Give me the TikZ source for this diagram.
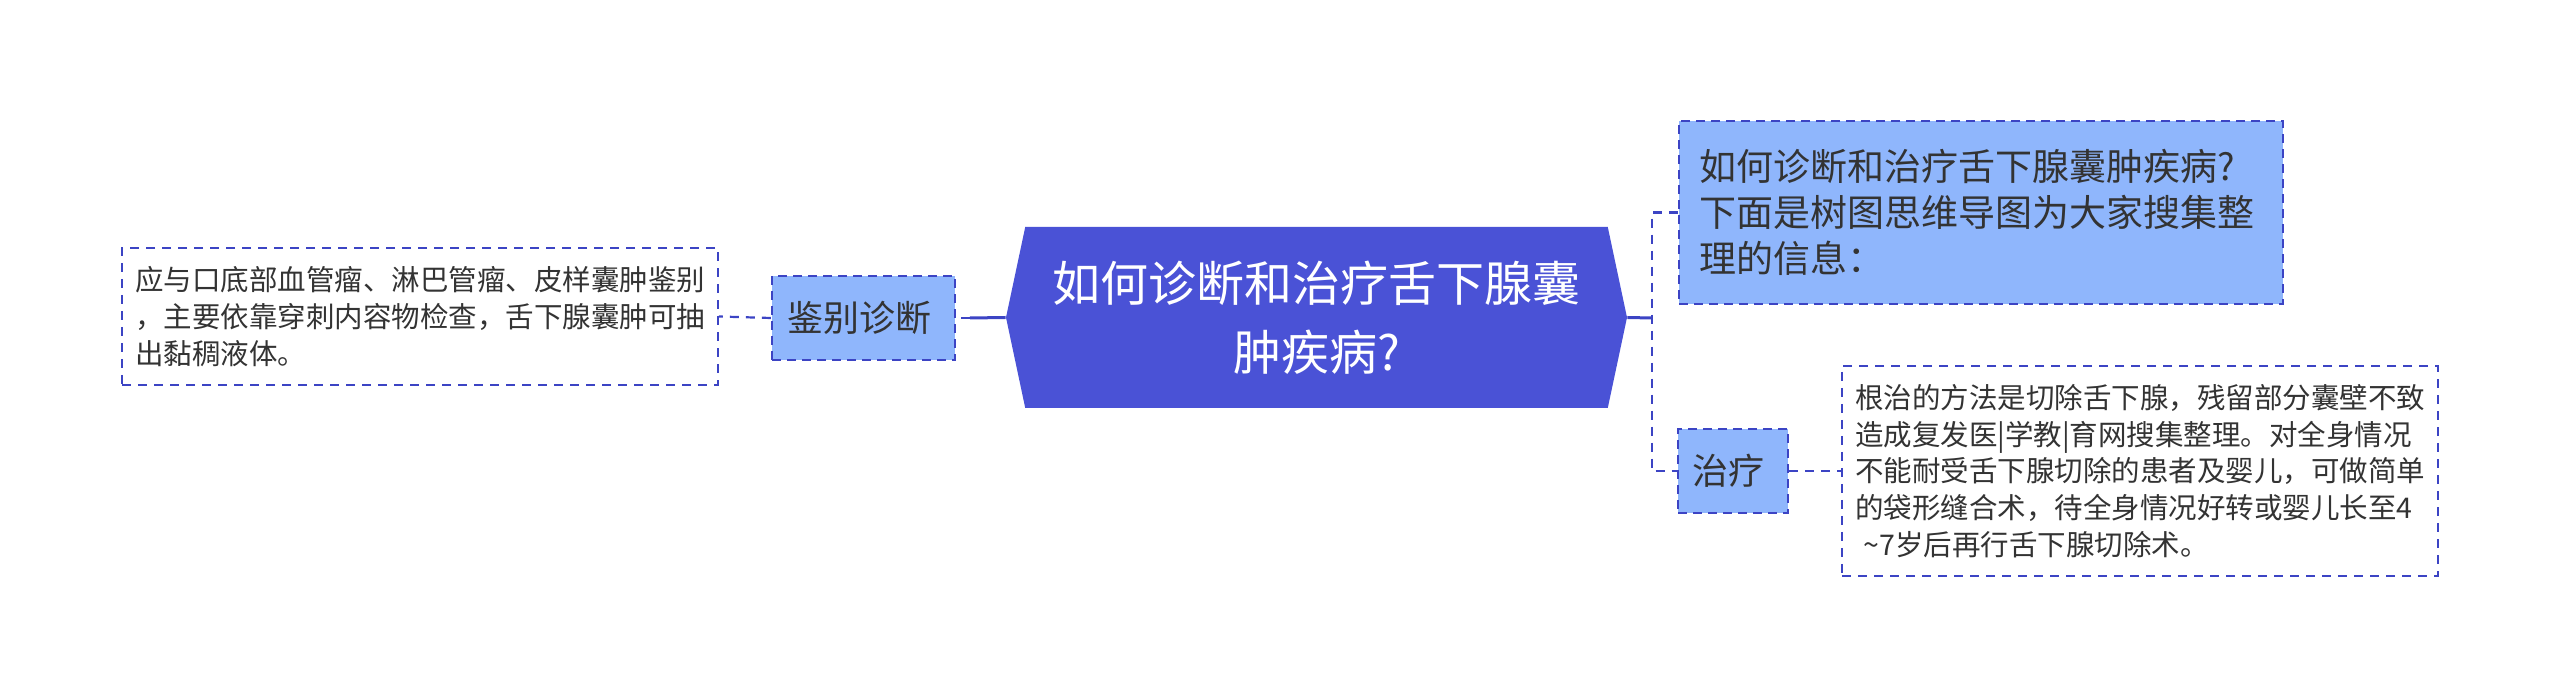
\documentclass[tikz,border=0pt]{standalone}
\usepackage{fontspec}
\setmainfont{Noto Sans CJK SC}
\usepackage{xcolor}
\usetikzlibrary{shapes.symbols}
\definecolor{rootblue}{HTML}{4A52D6}
\definecolor{subblue}{HTML}{8FB6FC}
\definecolor{edgeblue}{HTML}{3C44C4}
\definecolor{textgray}{HTML}{333333}

\tikzset{
    rootnode/.style={signal, signal to=west and east, signal pointer angle=156, fill=rootblue, text=white, inner sep=0pt, align=center, font=\fontsize{24pt}{34.5pt}\selectfont},
    subnode/.style={fill=subblue, draw=edgeblue, line width=1.1pt, dash pattern=on 4.5pt off 3pt, text=textgray, inner sep=0pt, align=left, font=\fontsize{18pt}{23pt}\selectfont},
    leafnode/.style={fill=white, draw=edgeblue, line width=0.9pt, dash pattern=on 4.5pt off 3.5pt, text=textgray, inner sep=0pt, align=left, font=\fontsize{14.25pt}{18.3pt}\selectfont},
    solidlink/.style={draw=edgeblue, line width=1.5pt},
    dashlink/.style={draw=edgeblue, line width=1.1pt, dash pattern=on 4.5pt off 3.5pt}
}

\begin{document}
\begin{tikzpicture}[x=0.5pt, y=-0.5pt]
        \useasboundingbox (0,0) rectangle (2560,699);
        \node[rootnode, minimum width=310.5pt, minimum height=90.5pt] (root) at (1316.5,317.5) {
            如何诊断和治疗舌下腺囊\\肿疾病?
        };
        \node[subnode, minimum width=91.5pt, minimum height=42pt, align=center] (diag) at (863.5,318) {
            鉴别诊断
        };
        \node[leafnode, minimum width=298pt, minimum height=68.5pt, text width=285pt] (diagleaf) at (420,316.5) {
            应与口底部血管瘤、淋巴管瘤、皮样囊肿鉴别\\，主要依靠穿刺内容物检查，舌下腺囊肿可抽\\出黏稠液体。
        };
        \node[subnode, minimum width=302pt, minimum height=91.5pt, text width=282pt, font=\fontsize{18.5pt}{23pt}\selectfont] (intro) at (1981,212.5) {
            如何诊断和治疗舌下腺囊肿疾病?\\下面是树图思维导图为大家搜集整\\理的信息：
        };
        \node[subnode, minimum width=55pt, minimum height=42pt, align=center] (treat) at (1733,471) {
            治疗
        };
        \node[leafnode, minimum width=298pt, minimum height=105pt, text width=285pt] (treatleaf) at (2140,471) {
            根治的方法是切除舌下腺，残留部分囊壁不致\\造成复发医|学教|育网搜集整理。对全身情况\\不能耐受舌下腺切除的患者及婴儿，可做简单\\的袋形缝合术，待全身情况好转或婴儿长至4\\\hspace{0.3em}\textasciitilde 7岁后再行舌下腺切除术。
        };
        \coordinate (hubR) at (1652,318);
        \coordinate (hubL) at (970,318);
        \draw[solidlink] (root.east) -- (hubR);
        \draw[dashlink] (intro.west) -| (hubR) |- (treat.west);
        \draw[solidlink] (root.west) -- (hubL);
        \draw[dashlink] (hubL) -- (diag.east);
        \draw[dashlink] (diag.west) -- (diagleaf.east);
        \draw[dashlink] (treat.east) -- (treatleaf.west);
    \end{tikzpicture}
\end{document}
